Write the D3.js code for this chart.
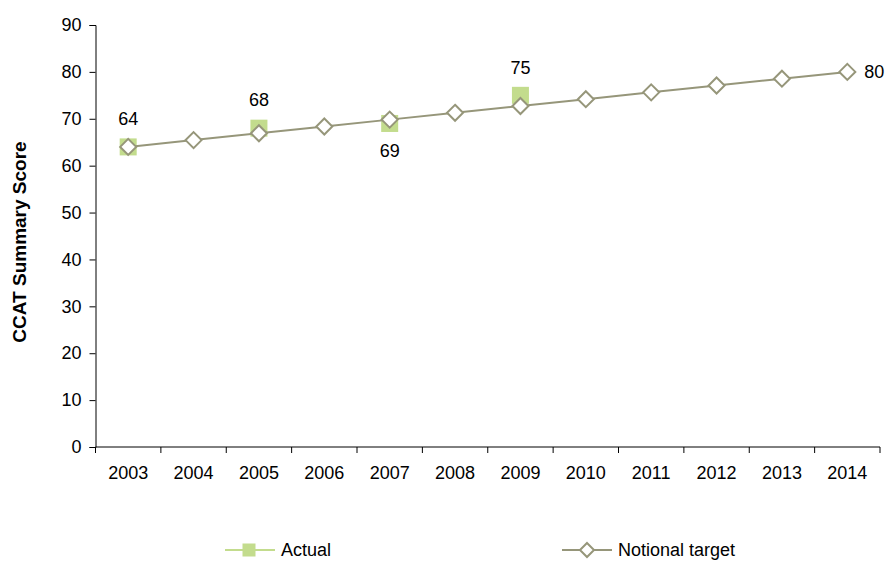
<!DOCTYPE html>
<html>
<head>
<meta charset="utf-8">
<script src="https://cdn.jsdelivr.net/npm/d3@7"></script>
<style>
  html, body { margin: 0; padding: 0; background: #fff; }
  svg { display: block; font-family: "Liberation Sans", Arial, sans-serif; }
</style>
</head>
<body>
<svg id="chart" width="887" height="566"></svg>
<script>
// Years on the category axis
const years = ["2003","2004","2005","2006","2007","2008","2009","2010","2011","2012","2013","2014"];
// Measured CCAT summary scores (only some years)
const actual = [64, null, 68, null, 69, null, 75, null, null, null, null, null];
// Notional target trajectory
const notional = [64, 65.45, 66.91, 68.36, 69.82, 71.27, 72.73, 74.18, 75.64, 77.09, 78.55, 80];
// Value axis ticks
const yTicks = [0, 10, 20, 30, 40, 50, 60, 70, 80, 90];
// Data labels: series, index, placement
const labels = [
  { series: "actual", i: 0, pos: "above" },
  { series: "actual", i: 2, pos: "above" },
  { series: "actual", i: 4, pos: "below" },
  { series: "actual", i: 6, pos: "above" },
  { series: "notional", i: 11, pos: "right" }
];

const lineColor = "#96967a";
const greenColor = "#c3dc8d";
const fontSize = 18;

const svg = d3.select("#chart");
const plotLeft = 95.5, plotRight = 880, plotTop = 25, plotBottom = 447;

const x = d3.scaleBand().domain(years).range([plotLeft, plotRight]).padding(0);
const y = d3.scaleLinear().domain([0, 90]).range([plotBottom, plotTop]);
const cx = d => x(d) + x.bandwidth() / 2;

// Y axis
const yAxis = svg.append("g")
  .attr("transform", `translate(${plotLeft},0)`)
  .call(d3.axisLeft(y).tickValues(yTicks).tickSize(6).tickPadding(8).tickFormat(d3.format("d")));
// X axis with ticks on category boundaries
const xAxis = svg.append("g")
  .attr("transform", `translate(0,${plotBottom})`)
  .call(d3.axisBottom(x).tickSize(0).tickPadding(19));
[yAxis, xAxis].forEach(g => {
  g.select(".domain").attr("stroke", "#000").attr("stroke-width", 1);
  g.selectAll("text").attr("font-size", fontSize).attr("fill", "#000")
    .attr("font-family", "Liberation Sans, Arial, sans-serif");
  g.selectAll("line").attr("stroke", "#000");
});
xAxis.select(".domain").attr("d", `M${plotLeft},0H${plotRight}`);
const bounds = years.map(d => x(d)).concat([plotRight]);
xAxis.selectAll(".bound").data(bounds).enter().append("line")
  .attr("class", "bound")
  .attr("x1", d => d).attr("x2", d => d)
  .attr("y1", 0).attr("y2", 6)
  .attr("stroke", "#000");

// Axis title
svg.append("text")
  .attr("transform", `translate(26,242) rotate(-90)`)
  .attr("text-anchor", "middle")
  .attr("font-size", 19)
  .attr("font-weight", "bold")
  .text("CCAT Summary Score");

// Actual: square markers
const sq = 17;
svg.append("g").selectAll("rect")
  .data(years.map((d, i) => ({ year: d, v: actual[i] })).filter(d => d.v != null))
  .enter().append("rect")
  .attr("x", d => cx(d.year) - sq / 2)
  .attr("y", d => y(d.v) - sq / 2)
  .attr("width", sq).attr("height", sq)
  .attr("fill", greenColor);

// Notional target line
const line = d3.line().x((d, i) => cx(years[i])).y(d => y(d));
svg.append("path")
  .datum(notional)
  .attr("d", line)
  .attr("fill", "none")
  .attr("stroke", lineColor)
  .attr("stroke-width", 2);

// Diamond markers
const diamond = r => `M0,${-r}L${r},0L0,${r}L${-r},0Z`;
svg.append("g").selectAll("path")
  .data(notional)
  .enter().append("path")
  .attr("transform", (d, i) => `translate(${cx(years[i])},${y(d)})`)
  .attr("d", diamond(8))
  .attr("fill", "#fff")
  .attr("stroke", lineColor)
  .attr("stroke-width", 2);

// Data labels
const labelG = svg.append("g").attr("font-size", fontSize).attr("fill", "#000");
labels.forEach(l => {
  const v = l.series === "actual" ? actual[l.i] : notional[l.i];
  const px = cx(years[l.i]), py = y(v);
  const t = labelG.append("text").text(d3.format("d")(Math.round(v)));
  if (l.pos === "above") {
    t.attr("x", px).attr("y", py - 28).attr("text-anchor", "middle").attr("dy", "0.35em");
  } else if (l.pos === "below") {
    t.attr("x", px).attr("y", py + 27).attr("text-anchor", "middle").attr("dy", "0.35em");
  } else {
    t.attr("x", px + 17).attr("y", py).attr("text-anchor", "start").attr("dy", "0.35em");
  }
});

// Legend
const legend = svg.append("g").attr("font-size", fontSize);
const ly = 550;
const a = legend.append("g");
a.append("line").attr("x1", 225).attr("x2", 275).attr("y1", ly).attr("y2", ly)
  .attr("stroke", greenColor).attr("stroke-width", 2);
a.append("rect").attr("x", 249 - 6.5).attr("y", ly - 6.5).attr("width", 13).attr("height", 13)
  .attr("fill", greenColor);
a.append("text").attr("x", 281).attr("y", ly).attr("dy", "0.35em").text("Actual");
const n = legend.append("g");
n.append("line").attr("x1", 562).attr("x2", 612).attr("y1", ly).attr("y2", ly)
  .attr("stroke", lineColor).attr("stroke-width", 2);
n.append("path").attr("transform", `translate(587,${ly})`).attr("d", diamond(7))
  .attr("fill", "#fff").attr("stroke", lineColor).attr("stroke-width", 2);
n.append("text").attr("x", 618).attr("y", ly).attr("dy", "0.35em").text("Notional target");
</script>
</body>
</html>
